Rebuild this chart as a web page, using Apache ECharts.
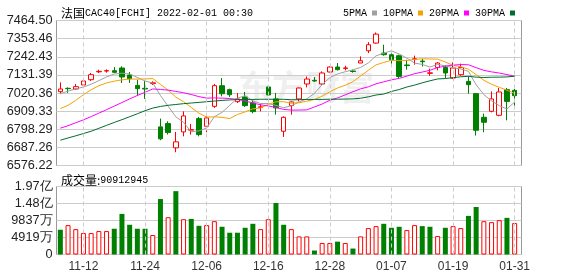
<!DOCTYPE html>
<html><head><meta charset="utf-8">
<script src="https://cdn.jsdelivr.net/npm/echarts@6/dist/echarts.min.js"></script>
<style>html,body{margin:0;padding:0;background:#fff}#c{width:578px;height:276px}</style>
</head><body><div id="c"></div>
<script>
const dates = ['11-09','11-10','11-11','11-12','11-15','11-16','11-17','11-18','11-19','11-22','11-23','11-24','11-25','11-26','11-29','11-30',
'12-01','12-02','12-03','12-06','12-07','12-08','12-09','12-10','12-13','12-14','12-15','12-16','12-17','12-20','12-21','12-22','12-23','12-24','12-27','12-28','12-29','12-30','12-31',
'01-03','01-04','01-05','01-06','01-07','01-10','01-11','01-12','01-13','01-14','01-17','01-18','01-19','01-20','01-21','01-24','01-25','01-26','01-27','01-28','01-31'];
const xTickLabels = ['11-12','11-24','12-06','12-16','12-28','01-07','01-19','01-31'];
const yTickLabels = ['6576.22','6687.26','6798.29','6909.33','7020.36','7131.39','7242.43','7353.46','7464.50'];
const volTickLabels = ['0','4919万','9837万','1.48亿','1.97亿'];
const volMax = 196740000;
const titleName = '法国';
const titleCode = 'CAC40[FCHI] 2022-02-01 00:30';
const legendNames = ['5PMA','10PMA','20PMA','30PMA'];

const opens = [7028.6,7049,7045.1,7069.5,7101.9,7150,7155,7157,7173.5,7130.4,7067,7049,7078,6812.8,6833,6684.4,6782,6793,6863.5,6816.5,6938.7,7065,7040.8,6967.5,6996,6959.5,6932,7057.3,6984,6786,6943,6984,7075.6,7098,7075.6,7149,7179.6,7171,7155,7204,7279,7326,7265,7254.8,7248.7,7192,7226,7216,7141,7177,7177,7112,7132.5,7091.6,7016.4,6871.5,6908,6883.7,7040.8,7036.5];
const closes = [7045.1,7047,7059.2,7094,7132.5,7153,7157,7147,7118.5,7108,7047,7045,7083,6739.4,6778,6721,6880,6796,6765.7,6867.6,7065.3,7016,7010,6984,6943,6906.3,6936,7008.4,6929,6871.5,6965.7,7051,7106,7094,7143,7179.6,7163,7174,7152,7218,7316,7381,7255,7224,7122,7188,7230,7212,7144,7204,7143,7173.5,7176,7071.4,6792,6841,6984,7026.7,6969,7004];
const lows = [7016.4,7020.6,7040.8,7061,7094,7143,7145,7143,7082,7082,7004,6984,7070,6731,6765.7,6657.5,6755,6765.7,6755,6780,6929,7000,6996,6959,6935,6896,6908,7004,6888,6751.6,6888,6969,7055,7088,7071,7147,7159,7159,7145,7204,7265,7322,7249,7183,7112,7163,7194,7183,7126,7159,7112,7106,7126,7016,6759.6,6780,6902,6877.6,6853,6935];
const highs = [7085.4,7054.9,7075.6,7108,7142.9,7163,7165,7179,7184,7149,7102,7094,7092,6863.5,6847,6782,6908,6831,6874,6888,7075.6,7112,7047,7020.6,7027,6979.7,6955,7067,7020.6,6877.6,6969,7055,7122,7118,7153,7183,7204,7187,7163,7245,7332,7391,7316,7281,7255,7224,7249,7229,7169.6,7210,7189.6,7208,7200,7122,7020.6,6894,7030.4,7051,7051,7045];

const ma5 = [7016,7032,7046,7057,7074.3,7095.9,7119.1,7136.7,7141.6,7136.7,7115.5,7093.9,7081.1,7005.3,6939.3,6874.1,6840.3,6782.9,6788.1,6806.1,6874.9,6902.1,6944.9,6988.6,7003.7,6971.9,6955.9,6955.5,6944.5,6930.2,6942.1,6965.1,6984.6,7017.6,7071.9,7114.7,7137.1,7150.7,7162.3,7177.3,7204.6,7248.2,7264.4,7278.8,7259.6,7234,7203.8,7195.2,7179.2,7195.6,7186.6,7175.3,7167.6,7153.1,7070.7,7010.3,6972.4,6943,6922.5,6965];
const ma10 = [6925,6945,6975,7010,7040,7065,7082,7093,7101,7105.5,7105.7,7106.5,7108.9,7073.4,7038,6994.8,6967.1,6932,6896.7,6872.7,6874.5,6871.2,6863.9,6888.4,6904.9,6923.4,6929,6950.2,6966.6,6967,6957,6960.5,6970.1,6981.1,7001.1,7028.4,7051.1,7067.7,7090,7124.6,7159.7,7192.7,7207.6,7220.6,7218.5,7219.3,7226,7229.8,7229,7227.6,7210.3,7189.6,7181.4,7166.1,7133.1,7098.4,7073.8,7055.3,7037.8,7017.8];
const ma20 = [6805,6820,6838,6856,6876,6897,6918,6940,6962,6984,7005,7025,7045,7042,7038,7030,7022,7011,6998,6989.1,6990.1,6988.9,6986.4,6980.9,6971.4,6959.1,6948,6941.1,6931.6,6919.8,6915.7,6915.8,6917,6934.7,6953,6975.9,6990.1,7009,7028.3,7045.8,7058.3,7076.6,7088.8,7100.8,7109.8,7123.9,7138.6,7148.7,7159.5,7176.1,7185,7191.1,7194.5,7193.4,7175.8,7158.9,7149.9,7142.6,7133.4,7122.7];
const ma30 = [6731,6745,6758,6772,6786,6804,6822,6840,6857,6875,6893,6912,6928,6938,6945,6950,6955,6959,6963,6967,6971,6975,6978,6980,6981,6981,6982,6982,6982,6981.7,6979.1,6979.4,6981,6981,6981.3,6982.2,6982.4,6983.3,6984.4,6988.1,6997,7008.1,7013.9,7030,7041.5,7057,7068.7,7082.6,7095.2,7106.4,7109,7114.2,7119.7,7122.6,7117.6,7115.4,7117,7117.6,7118.9,7123.3];

const volumes = [71600000,85000000,73500000,62000000,62000000,67800000,67800000,74500000,117400000,86000000,74500000,74500000,56300000,160400000,107900000,183300000,102100000,103000000,83000000,85000000,96400000,80200000,63000000,63000000,77300000,88800000,73500000,102100000,148900000,86000000,
73500000,52400000,52400000,11500000,33400000,33400000,37200000,33400000,17200000,52400000,76400000,82100000,88800000,77300000,80200000,70600000,85000000,82100000,80200000,53400000,77300000,82100000,76400000,111700000,137500000,96400000,93600000,99400000,106000000,90912945];
const volDir = [-1,1,1,1,1,1,1,-1,-1,-1,-1,-1,1,-1,1,-1,1,-1,-1,1,1,-1,-1,-1,-1,-1,1,1,-1,-1,1,1,1,-1,1,1,-1,1,-1,1,1,1,-1,-1,-1,1,1,-1,-1,1,-1,1,1,-1,-1,1,1,1,-1,1];

const RED = '#ff0000', GREEN = '#008000';
const yMin = parseFloat(yTickLabels[0]), yMax = parseFloat(yTickLabels[yTickLabels.length - 1]);
const candleData = dates.map((d, i) => [opens[i], closes[i], lows[i], highs[i]]);
const volData = volumes.map((v, i) => ({
  value: v,
  itemStyle: volDir[i] > 0 ? { color: '#fff', borderColor: RED, borderWidth: 1 } : { color: GREEN }
}));
const vMark = {
  silent: true, symbol: ['none', 'none'], label: { show: false }, animation: false,
  lineStyle: { color: '#cccccc', type: [4, 3], width: 1 },
  emphasis: { disabled: true },
  data: xTickLabels.map(t => ({ xAxis: t }))
};
const MONO = "'Liberation Mono', monospace";
const CJK = "'Noto Sans CJK SC'";
const SANS = "'Liberation Sans', Arial, sans-serif";
const richTitle = {
  c: { fontFamily: CJK, fontSize: 12, color: '#000', fontWeight: 'normal' },
  a: { fontFamily: MONO, fontSize: 10, color: '#000', fontWeight: 'normal' }
};

const L = 56.5, T1 = 20.5, H1 = 145, T2 = 186.5, H2 = 68, WD = 462, WF = 465;
const chart = echarts.init(document.getElementById('c'), null, { renderer: 'canvas' });
chart.setOption({
  animation: false,
  backgroundColor: '#fff',
  title: [
    { text: '{c|' + titleName + '}{a|' + titleCode + '}', left: 56, top: 2,
      textStyle: { fontWeight: 'normal', rich: richTitle } },
    { text: '{c|成交量:}{a|' + volumes[volumes.length - 1] + '}', left: 56, top: 169,
      textStyle: { fontWeight: 'normal', rich: richTitle } }
  ],
  legend: {
    data: legendNames, left: 338, top: 3, align: 'right', icon: 'rect', itemWidth: 5, itemHeight: 5, itemGap: 6,
    selectedMode: false, textStyle: { fontFamily: MONO, fontSize: 10, color: '#000', fontWeight: 'normal' }
  },
  graphic: [{ type: 'text', left: 238, top: 70, z: -10, silent: true,
    style: { text: '东方财富', font: 'bold 34px "Noto Sans CJK SC"', fill: '#efefef' } }],
  grid: [
    { left: L, top: T1, width: WD, height: H1, outerBoundsMode: 'none' },
    { left: L, top: T1, width: WF, height: H1, show: true, borderColor: '#999', borderWidth: 1, backgroundColor: 'transparent', outerBoundsMode: 'none' },
    { left: L, top: T2, width: WD, height: H2, outerBoundsMode: 'none' },
    { left: L, top: T2, width: WF, height: H2, show: true, borderColor: '#999', borderWidth: 1, backgroundColor: 'transparent', outerBoundsMode: 'none' }
  ],
  xAxis: [
    { type: 'category', gridIndex: 0, data: dates, boundaryGap: true, axisLine: { show: false }, axisTick: { show: false }, axisLabel: { show: false }, splitLine: { show: false } },
    { type: 'value', gridIndex: 1, min: 0, max: 1, show: false },
    { type: 'category', gridIndex: 2, data: dates, boundaryGap: true, axisLine: { show: false }, axisTick: { show: false }, splitLine: { show: false },
      axisLabel: { show: true, interval: (i, v) => xTickLabels.indexOf(v) >= 0, margin: 6, color: '#333', fontSize: 12, fontFamily: SANS } },
    { type: 'value', gridIndex: 3, min: 0, max: 1, show: false }
  ],
  yAxis: [
    { type: 'value', gridIndex: 0, min: yMin, max: yMax, show: false, splitLine: { show: false } },
    { type: 'value', gridIndex: 1, min: 0, max: yTickLabels.length - 1, interval: 1,
      axisLine: { show: false }, axisTick: { show: false },
      splitLine: { show: true, lineStyle: { color: '#cccccc', width: 1 } },
      axisLabel: { formatter: v => yTickLabels[Math.round(v)], margin: 4, color: '#222', fontSize: 12.7, fontFamily: SANS } },
    { type: 'value', gridIndex: 2, min: 0, max: volMax, show: false, splitLine: { show: false } },
    { type: 'value', gridIndex: 3, min: 0, max: volTickLabels.length - 1, interval: 1,
      axisLine: { show: false }, axisTick: { show: false },
      splitLine: { show: true, lineStyle: { color: '#cccccc', width: 1 } },
      axisLabel: { formatter: v => volTickLabels[Math.round(v)], margin: 4, color: '#222', fontSize: 12.7, fontFamily: SANS } }
  ],
  series: [
    { type: 'candlestick', xAxisIndex: 0, yAxisIndex: 0, data: candleData, barWidth: 5,
      itemStyle: { color: '#fff', color0: GREEN, borderColor: RED, borderColor0: GREEN, borderWidth: 1 },
      markLine: vMark },
    { name: legendNames[0], type: 'line', xAxisIndex: 0, yAxisIndex: 0, data: ma5, symbol: 'none', lineStyle: { width: 1, color: '#a0a0a0' }, itemStyle: { color: '#a0a0a0' } },
    { name: legendNames[1], type: 'line', xAxisIndex: 0, yAxisIndex: 0, data: ma10, symbol: 'none', lineStyle: { width: 1, color: '#f5a300' }, itemStyle: { color: '#f5a300' } },
    { name: legendNames[2], type: 'line', xAxisIndex: 0, yAxisIndex: 0, data: ma20, symbol: 'none', lineStyle: { width: 1, color: '#ff00ff' }, itemStyle: { color: '#ff00ff' } },
    { name: legendNames[3], type: 'line', xAxisIndex: 0, yAxisIndex: 0, data: ma30, symbol: 'none', lineStyle: { width: 1, color: '#006e2d' }, itemStyle: { color: '#006e2d' } },
    { type: 'bar', xAxisIndex: 2, yAxisIndex: 2, data: volData, barWidth: 5, markLine: vMark }
  ]
});
</script></body></html>
